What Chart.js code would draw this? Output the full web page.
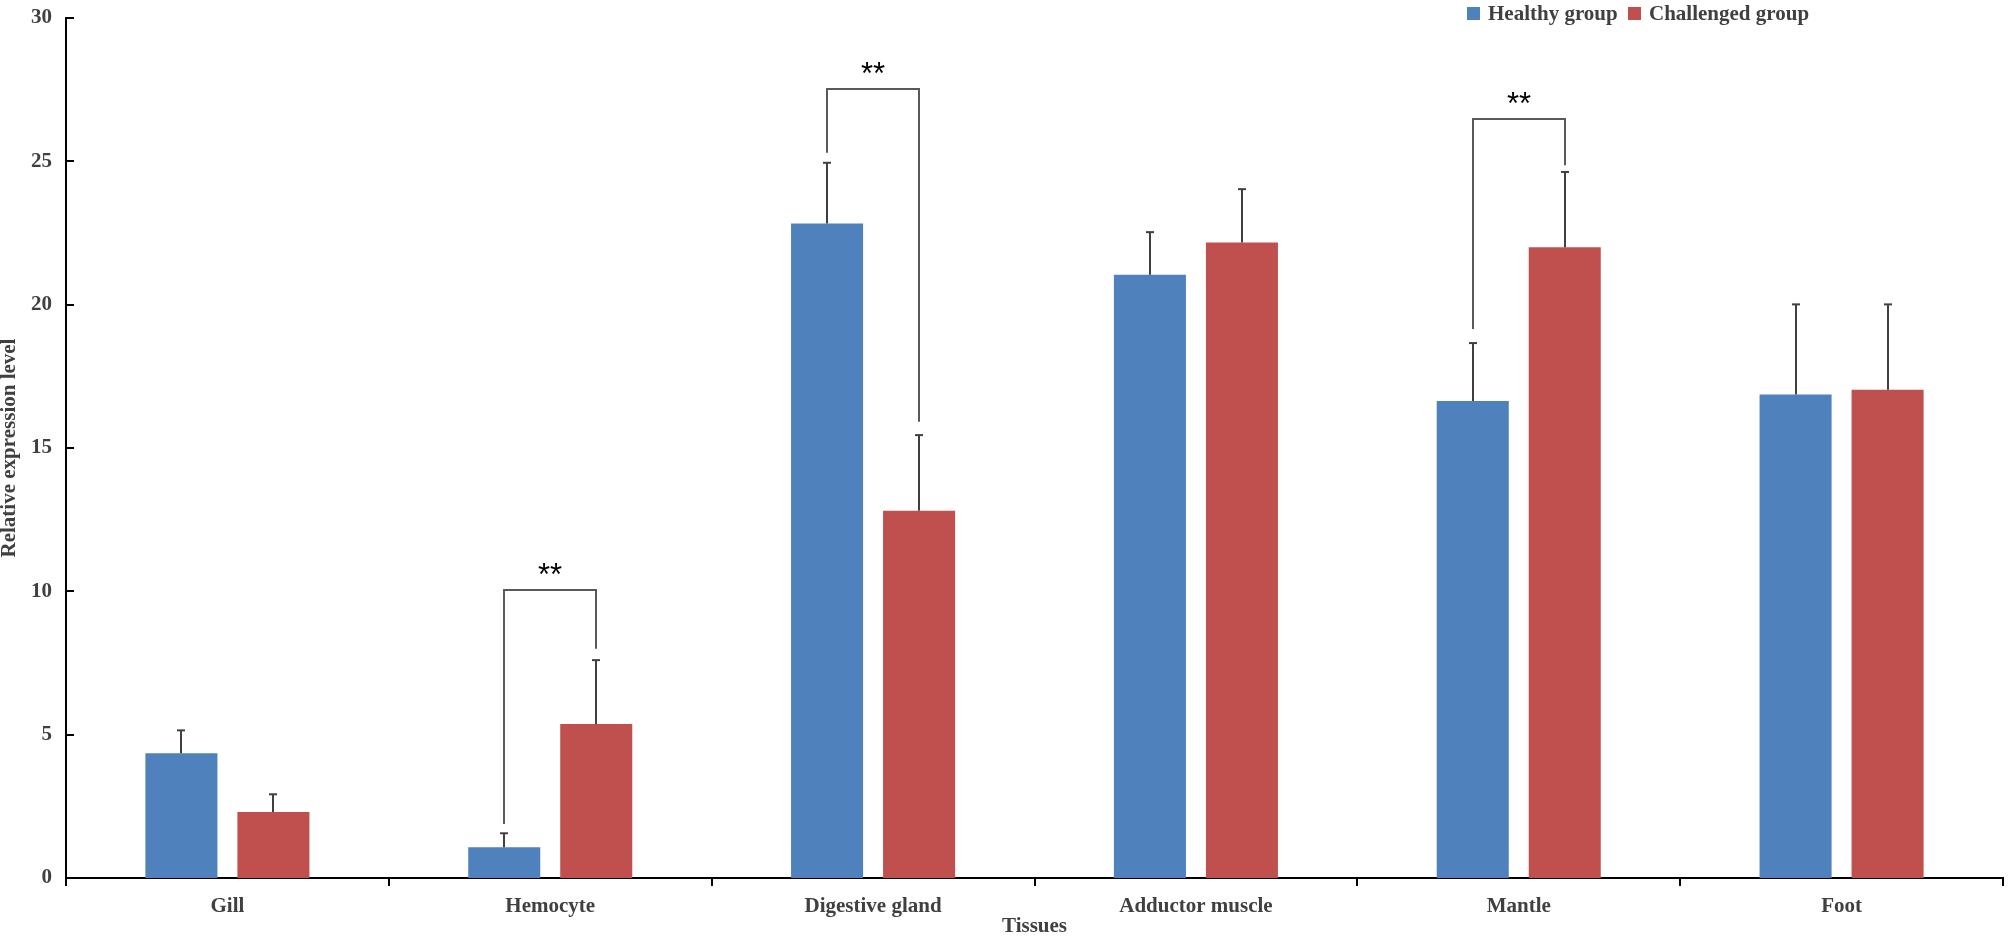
<!DOCTYPE html>
<html>
<head>
<meta charset="utf-8">
<script src="https://cdn.jsdelivr.net/npm/chart.js@4"></script>
<style>
html,body{margin:0;padding:0;background:#fff;}
#wrap{width:2008px;height:936px;position:relative;}
</style>
</head>
<body>
<div id="wrap"><canvas id="c" width="2008" height="936"></canvas></div>
<script>
const categories = ['Gill', 'Hemocyte', 'Digestive gland', 'Adductor muscle', 'Mantle', 'Foot'];
const seriesNames = ['Healthy group', 'Challenged group'];
const healthy = [4.35, 1.07, 22.83, 21.04, 16.64, 16.87];
const healthySD = [0.80, 0.49, 2.12, 1.49, 2.02, 3.14];
const challenged = [2.30, 5.37, 12.81, 22.17, 22.00, 17.03];
const challengedSD = [0.62, 2.23, 2.64, 1.86, 2.63, 2.98];
const yTicks = [0, 5, 10, 15, 20, 25, 30];
// significance brackets: category index, bracket level, left leg bottom, right leg bottom
const sigCategory = [1, 2, 4];
const sigLevel = [10.05, 27.54, 26.46];
const sigLeftBottom = [1.88, 25.30, 19.15];
const sigRightBottom = [8.00, 15.92, 24.86];
const sigLabel = ['**', '**', '**'];

const BLUE = '#4F81BD', RED = '#C0504D', TXT = '#404040';
const SERIF = '"Liberation Serif", "Times New Roman", serif';

const extras = {
  id: 'extras',
  afterDatasetsDraw(chart) {
    const ctx = chart.ctx, y = chart.scales.y, area = chart.chartArea;
    ctx.save();
    // inward y ticks
    ctx.strokeStyle = '#000'; ctx.lineWidth = 2;
    yTicks.forEach(v => {
      const py = Math.round(y.getPixelForValue(v));
      ctx.beginPath(); ctx.moveTo(area.left, py); ctx.lineTo(area.left + 8, py); ctx.stroke();
    });
    // error bars (upper only)
    const sds = [healthySD, challengedSD];
    const vals = [healthy, challenged];
    ctx.strokeStyle = '#404040'; ctx.lineWidth = 2;
    [0, 1].forEach(d => {
      const meta = chart.getDatasetMeta(d);
      meta.data.forEach((bar, i) => {
        const x = Math.round(bar.x);
        const y0 = y.getPixelForValue(vals[d][i]);
        const y1 = y.getPixelForValue(vals[d][i] + sds[d][i]);
        ctx.beginPath(); ctx.moveTo(x, y0); ctx.lineTo(x, y1); ctx.stroke();
        ctx.beginPath(); ctx.moveTo(x - 4, y1); ctx.lineTo(x + 4, y1); ctx.stroke();
      });
    });
    // significance brackets
    ctx.strokeStyle = '#595959'; ctx.lineWidth = 2;
    sigCategory.forEach((c, k) => {
      const xl = Math.round(chart.getDatasetMeta(0).data[c].x);
      const xr = Math.round(chart.getDatasetMeta(1).data[c].x);
      const yl = y.getPixelForValue(sigLeftBottom[k]);
      const yr = y.getPixelForValue(sigRightBottom[k]);
      const yt = Math.round(y.getPixelForValue(sigLevel[k]));
      ctx.beginPath();
      ctx.moveTo(xl, yl); ctx.lineTo(xl, yt); ctx.lineTo(xr, yt); ctx.lineTo(xr, yr);
      ctx.stroke();
      ctx.fillStyle = '#000';
      ctx.font = '31px "Liberation Sans", Arial, sans-serif';
      ctx.textAlign = 'center'; ctx.textBaseline = 'middle';
      ctx.fillText(sigLabel[k], (xl + xr) / 2, yt - 14);
    });
    // legend
    const colors = [BLUE, RED];
    const lx = [1467, 1628];
    ctx.font = 'bold 21px ' + SERIF;
    ctx.textAlign = 'left'; ctx.textBaseline = 'middle';
    seriesNames.forEach((n, i) => {
      ctx.fillStyle = colors[i];
      ctx.fillRect(lx[i], 7, 13, 13);
      ctx.fillStyle = TXT;
      ctx.fillText(n, lx[i] + 21, 14.5);
    });
    ctx.restore();
  }
};

new Chart(document.getElementById('c'), {
  type: 'bar',
  data: {
    labels: categories,
    datasets: [
      { label: seriesNames[0], data: healthy, backgroundColor: BLUE, borderWidth: 0 },
      { label: seriesNames[1], data: challenged, backgroundColor: RED, borderWidth: 0 }
    ]
  },
  options: {
    responsive: false,
    animation: false,
    devicePixelRatio: 1,
    layout: { padding: { top: 18, right: 5, left: 0, bottom: 0 } },
    datasets: { bar: { categoryPercentage: 0.570, barPercentage: 0.783 } },
    plugins: { legend: { display: false }, tooltip: { enabled: false } },
    scales: {
      x: {
        offset: true,
        afterFit(s) { s.height = 58; s.paddingLeft = 0; s.paddingRight = 0; },
        grid: { display: true, drawOnChartArea: false, drawTicks: true, tickLength: 8, color: '#000', lineWidth: 2 },
        border: { display: true, color: '#000', width: 2 },
        ticks: { padding: 8, color: TXT, font: { family: SERIF, size: 21, weight: 'bold', lineHeight: 1.2 }, maxRotation: 0, autoSkip: false },
        title: { display: true, text: 'Tissues', color: TXT, padding: 0, font: { family: SERIF, size: 21, weight: 'bold', lineHeight: 0.85 } }
      },
      y: {
        min: 0, max: 30,
        afterFit(s) { s.width = 66; s.paddingTop = 0; s.paddingBottom = 0; },
        afterBuildTicks(s) { s.ticks = yTicks.map(v => ({ value: v })); },
        grid: { display: false, drawTicks: false },
        border: { display: true, color: '#000', width: 2 },
        ticks: { padding: 14, color: TXT, font: { family: SERIF, size: 21, weight: 'bold' } },
        title: { display: true, text: 'Relative expression level', color: TXT, padding: 0, font: { family: SERIF, size: 21, weight: 'bold', lineHeight: 0.95 } }
      }
    }
  },
  plugins: [extras]
});
</script>
</body>
</html>
